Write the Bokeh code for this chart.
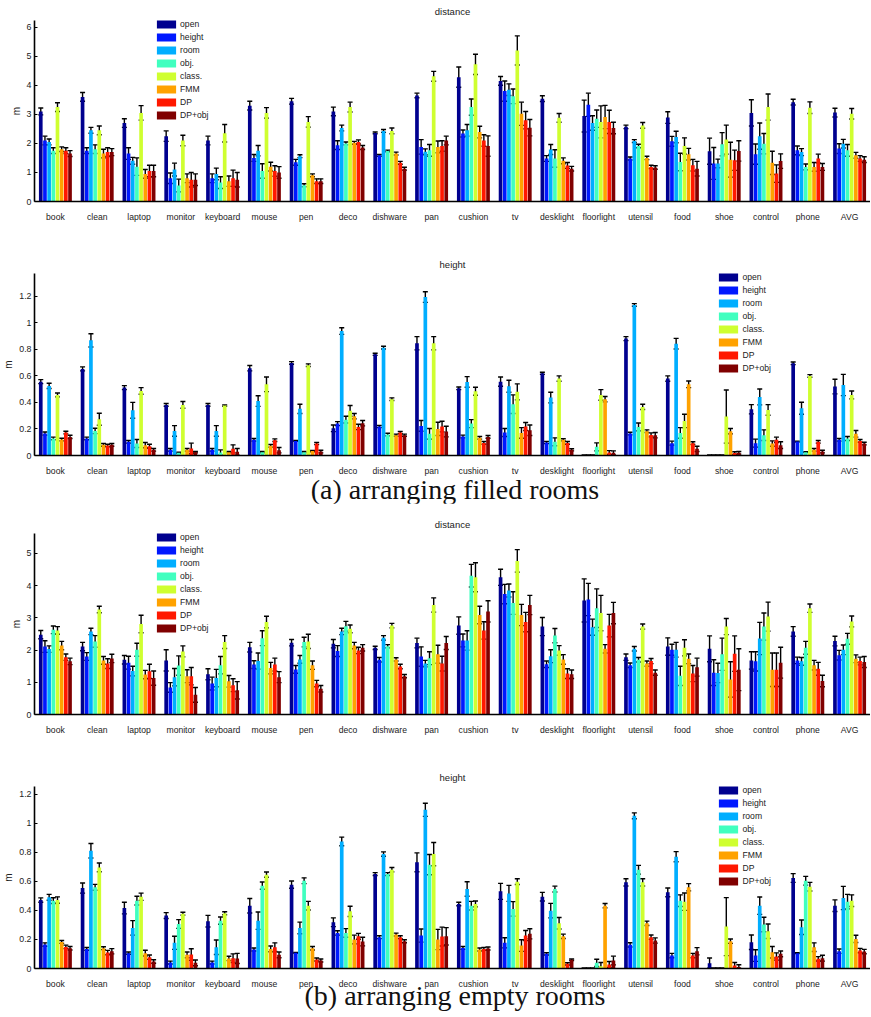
from bokeh.plotting import figure
from bokeh.models import (Range1d, FixedTicker, ColumnDataSource, Whisker, TeeHead,
                          Legend, LegendItem, NumeralTickFormatter, Div)
from bokeh.layouts import column
from bokeh.embed import file_html
from bokeh.resources import INLINE

categories = ["book", "clean", "laptop", "monitor", "keyboard", "mouse", "pen", "deco",
              "dishware", "pan", "cushion", "tv", "desklight", "floorlight", "utensil",
              "food", "shoe", "control", "phone", "AVG"]
series = ["open", "height", "room", "obj.", "class.", "FMM", "DP", "DP+obj"]
colors = ["#00008F", "#0018FF", "#00AEFF", "#40FFBF", "#CFFF30", "#FFA200", "#FF1800", "#800000"]

# (a) filled rooms - distance (rows: categories, columns: series)
filled_distance = [
    [3.10, 2.10, 2.05, 1.75, 3.25, 1.80, 1.75, 1.65],
    [3.60, 1.75, 2.45, 1.80, 2.45, 1.65, 1.70, 1.70],
    [2.70, 1.65, 1.40, 1.20, 3.05, 0.95, 1.05, 1.05],
    [2.25, 0.80, 1.10, 0.55, 2.10, 0.80, 0.75, 0.75],
    [2.10, 0.80, 0.95, 0.65, 2.35, 0.70, 0.80, 0.75],
    [3.30, 1.50, 1.75, 1.05, 3.05, 1.20, 1.05, 1.00],
    [3.45, 1.35, 1.56, 0.56, 2.74, 0.90, 0.70, 0.70],
    [3.10, 1.94, 2.53, 2.00, 3.25, 2.02, 2.05, 1.86],
    [2.36, 1.59, 2.43, 1.74, 2.43, 1.65, 1.33, 1.13],
    [3.65, 1.88, 1.71, 1.76, 4.31, 1.88, 1.91, 2.10],
    [4.28, 2.34, 2.45, 3.25, 4.72, 2.39, 2.10, 1.91],
    [4.15, 3.80, 3.85, 3.62, 5.20, 3.02, 2.80, 2.54],
    [3.54, 1.48, 1.79, 1.48, 2.88, 1.40, 1.24, 1.13],
    [2.94, 3.33, 2.70, 2.85, 2.74, 2.91, 2.74, 2.53],
    [2.57, 1.48, 2.08, 1.91, 2.62, 1.50, 1.19, 1.17],
    [2.89, 2.07, 2.22, 1.36, 1.91, 1.63, 1.25, 1.13],
    [1.73, 1.31, 1.31, 1.97, 2.13, 1.44, 1.42, 1.74],
    [3.05, 1.63, 2.25, 1.99, 3.25, 1.33, 0.96, 1.39],
    [3.42, 1.76, 1.70, 1.19, 3.23, 1.19, 1.48, 1.19],
    [3.06, 1.82, 1.99, 1.76, 3.02, 1.59, 1.48, 1.44],
]
filled_distance_err = [
    [0.12, 0.15, 0.10, 0.10, 0.15, 0.08, 0.10, 0.10],
    [0.15, 0.10, 0.10, 0.15, 0.15, 0.15, 0.15, 0.12],
    [0.15, 0.20, 0.12, 0.30, 0.25, 0.15, 0.20, 0.20],
    [0.18, 0.18, 0.22, 0.22, 0.18, 0.15, 0.25, 0.20],
    [0.15, 0.15, 0.20, 0.20, 0.30, 0.18, 0.28, 0.25],
    [0.15, 0.12, 0.18, 0.25, 0.18, 0.15, 0.18, 0.20],
    [0.10, 0.10, 0.05, 0.05, 0.18, 0.05, 0.08, 0.08],
    [0.15, 0.15, 0.10, 0.05, 0.17, 0.05, 0.07, 0.07],
    [0.03, 0.03, 0.05, 0.03, 0.10, 0.05, 0.05, 0.05],
    [0.08, 0.25, 0.10, 0.20, 0.17, 0.20, 0.18, 0.15],
    [0.35, 0.12, 0.20, 0.28, 0.35, 0.20, 0.20, 0.35],
    [0.15, 0.35, 0.20, 0.25, 0.50, 0.40, 0.30, 0.28],
    [0.10, 0.10, 0.17, 0.30, 0.15, 0.10, 0.10, 0.08],
    [0.55, 0.40, 0.25, 0.30, 0.55, 0.40, 0.40, 0.20],
    [0.06, 0.05, 0.05, 0.06, 0.10, 0.06, 0.06, 0.06],
    [0.20, 0.17, 0.20, 0.30, 0.28, 0.20, 0.20, 0.25],
    [0.45, 0.55, 0.15, 0.40, 0.50, 0.60, 0.35, 0.35],
    [0.45, 0.35, 0.45, 0.35, 0.45, 0.40, 0.30, 0.25],
    [0.10, 0.15, 0.12, 0.10, 0.20, 0.15, 0.15, 0.12],
    [0.15, 0.17, 0.15, 0.20, 0.18, 0.10, 0.10, 0.10],
]

# (a) filled rooms - height
filled_height = [
    [0.556, 0.165, 0.524, 0.128, 0.456, 0.120, 0.173, 0.140],
    [0.652, 0.128, 0.867, 0.185, 0.273, 0.080, 0.075, 0.080],
    [0.511, 0.103, 0.340, 0.090, 0.486, 0.078, 0.070, 0.043],
    [0.381, 0.043, 0.185, 0.020, 0.381, 0.043, 0.053, 0.025],
    [0.381, 0.043, 0.185, 0.022, 0.376, 0.025, 0.050, 0.028],
    [0.657, 0.118, 0.410, 0.025, 0.536, 0.073, 0.115, 0.040],
    [0.697, 0.110, 0.351, 0.025, 0.680, 0.033, 0.090, 0.030],
    [0.205, 0.240, 0.937, 0.270, 0.336, 0.296, 0.215, 0.243],
    [0.762, 0.218, 0.812, 0.158, 0.424, 0.153, 0.173, 0.153],
    [0.845, 0.223, 1.193, 0.163, 0.845, 0.200, 0.218, 0.180],
    [0.506, 0.143, 0.554, 0.240, 0.484, 0.133, 0.095, 0.140],
    [0.556, 0.173, 0.521, 0.386, 0.479, 0.170, 0.218, 0.190],
    [0.619, 0.098, 0.436, 0.103, 0.579, 0.118, 0.095, 0.043],
    [0.003, 0.003, 0.003, 0.065, 0.456, 0.424, 0.022, 0.020],
    [0.880, 0.165, 1.133, 0.215, 0.366, 0.183, 0.155, 0.153],
    [0.579, 0.093, 0.842, 0.170, 0.260, 0.536, 0.093, 0.050],
    [0.003, 0.003, 0.003, 0.003, 0.293, 0.183, 0.018, 0.020],
    [0.348, 0.093, 0.441, 0.153, 0.343, 0.090, 0.118, 0.078],
    [0.694, 0.105, 0.356, 0.025, 0.599, 0.043, 0.103, 0.030],
    [0.519, 0.118, 0.531, 0.128, 0.456, 0.163, 0.110, 0.090],
]
filled_height_err = [
    [0.015, 0.012, 0.020, 0.010, 0.015, 0.010, 0.010, 0.012],
    [0.015, 0.010, 0.050, 0.020, 0.045, 0.010, 0.010, 0.010],
    [0.015, 0.010, 0.060, 0.030, 0.025, 0.020, 0.015, 0.010],
    [0.010, 0.010, 0.040, 0.005, 0.025, 0.010, 0.040, 0.005],
    [0.010, 0.010, 0.040, 0.020, 0.005, 0.005, 0.030, 0.025],
    [0.020, 0.010, 0.040, 0.005, 0.055, 0.010, 0.010, 0.020],
    [0.010, 0.003, 0.035, 0.005, 0.010, 0.005, 0.008, 0.010],
    [0.025, 0.015, 0.025, 0.025, 0.040, 0.020, 0.020, 0.020],
    [0.008, 0.008, 0.010, 0.010, 0.010, 0.008, 0.008, 0.008],
    [0.050, 0.040, 0.040, 0.040, 0.050, 0.050, 0.040, 0.040],
    [0.010, 0.010, 0.040, 0.030, 0.030, 0.010, 0.010, 0.010],
    [0.035, 0.030, 0.045, 0.070, 0.060, 0.040, 0.030, 0.040],
    [0.008, 0.008, 0.040, 0.030, 0.020, 0.008, 0.010, 0.008],
    [0.000, 0.000, 0.000, 0.030, 0.040, 0.020, 0.015, 0.015],
    [0.015, 0.010, 0.010, 0.030, 0.020, 0.010, 0.015, 0.020],
    [0.020, 0.015, 0.040, 0.040, 0.050, 0.025, 0.010, 0.020],
    [0.000, 0.000, 0.000, 0.000, 0.200, 0.020, 0.010, 0.010],
    [0.035, 0.030, 0.060, 0.040, 0.040, 0.020, 0.020, 0.025],
    [0.010, 0.003, 0.045, 0.003, 0.010, 0.010, 0.010, 0.010],
    [0.055, 0.010, 0.080, 0.015, 0.030, 0.025, 0.010, 0.010],
]

# (b) empty rooms - distance
empty_distance = [
    [2.48, 2.11, 2.03, 2.63, 2.61, 2.14, 1.78, 1.65],
    [2.11, 1.80, 2.58, 2.27, 3.26, 1.68, 1.58, 1.74],
    [1.70, 1.61, 1.35, 2.01, 2.81, 1.24, 1.34, 1.13],
    [1.68, 0.84, 1.16, 1.52, 1.96, 1.19, 1.19, 0.61],
    [1.25, 0.96, 1.13, 1.53, 2.25, 1.03, 0.91, 0.75],
    [2.09, 1.55, 1.66, 2.37, 2.87, 1.44, 1.55, 1.16],
    [2.23, 1.40, 1.71, 2.25, 2.27, 1.53, 0.96, 0.80],
    [2.20, 1.97, 2.58, 2.74, 2.66, 2.14, 1.99, 2.07],
    [2.07, 1.70, 2.38, 2.12, 2.76, 1.71, 1.49, 1.19],
    [2.22, 1.80, 1.58, 1.75, 3.40, 1.87, 1.58, 2.22],
    [2.76, 2.30, 2.30, 4.31, 4.26, 3.09, 2.61, 3.20],
    [4.26, 3.74, 3.85, 3.46, 4.77, 3.09, 2.87, 3.40],
    [2.73, 1.56, 1.81, 2.45, 1.99, 1.71, 1.27, 1.25],
    [3.54, 3.57, 2.71, 3.30, 3.15, 2.04, 2.76, 3.15],
    [1.78, 1.53, 2.04, 1.70, 2.73, 1.58, 1.66, 1.30],
    [2.11, 2.01, 2.01, 1.20, 2.07, 1.73, 1.27, 1.47],
    [2.04, 1.30, 1.29, 1.87, 2.73, 1.09, 1.89, 1.39],
    [1.68, 1.65, 2.36, 2.73, 3.04, 1.39, 1.39, 1.61],
    [2.58, 1.68, 1.65, 2.07, 3.30, 1.53, 1.42, 1.04],
    [2.28, 1.84, 2.01, 2.35, 2.89, 1.73, 1.66, 1.63],
]
empty_distance_err = [
    [0.13, 0.18, 0.10, 0.12, 0.12, 0.13, 0.10, 0.10],
    [0.13, 0.12, 0.10, 0.18, 0.10, 0.12, 0.15, 0.13],
    [0.13, 0.20, 0.15, 0.20, 0.27, 0.13, 0.22, 0.22],
    [0.33, 0.15, 0.27, 0.30, 0.17, 0.20, 0.27, 0.23],
    [0.17, 0.20, 0.27, 0.27, 0.20, 0.18, 0.20, 0.27],
    [0.15, 0.12, 0.25, 0.23, 0.18, 0.18, 0.20, 0.17],
    [0.10, 0.12, 0.12, 0.15, 0.22, 0.13, 0.10, 0.10],
    [0.13, 0.17, 0.10, 0.15, 0.12, 0.10, 0.10, 0.10],
    [0.05, 0.07, 0.07, 0.05, 0.07, 0.05, 0.07, 0.05],
    [0.15, 0.30, 0.10, 0.20, 0.22, 0.28, 0.23, 0.20],
    [0.27, 0.20, 0.30, 0.35, 0.45, 0.27, 0.27, 0.33],
    [0.25, 0.30, 0.20, 0.35, 0.35, 0.33, 0.30, 0.30],
    [0.28, 0.10, 0.20, 0.22, 0.15, 0.15, 0.15, 0.13],
    [0.67, 0.50, 0.25, 0.60, 0.55, 0.13, 0.35, 0.33],
    [0.10, 0.07, 0.07, 0.07, 0.08, 0.08, 0.08, 0.08],
    [0.27, 0.17, 0.23, 0.30, 0.25, 0.15, 0.25, 0.28],
    [0.40, 0.40, 0.30, 0.50, 0.25, 0.55, 0.55, 0.65],
    [0.27, 0.30, 0.50, 0.42, 0.45, 0.52, 0.52, 0.48],
    [0.15, 0.10, 0.12, 0.20, 0.13, 0.15, 0.20, 0.18],
    [0.15, 0.15, 0.15, 0.17, 0.17, 0.12, 0.12, 0.17],
]

# (b) empty rooms - height
empty_height = [
    [0.472, 0.165, 0.491, 0.468, 0.472, 0.183, 0.149, 0.140],
    [0.555, 0.135, 0.812, 0.560, 0.697, 0.140, 0.110, 0.119],
    [0.417, 0.106, 0.280, 0.468, 0.495, 0.106, 0.078, 0.048],
    [0.365, 0.041, 0.177, 0.307, 0.378, 0.094, 0.096, 0.039],
    [0.326, 0.041, 0.147, 0.330, 0.381, 0.069, 0.071, 0.069],
    [0.433, 0.131, 0.330, 0.571, 0.647, 0.135, 0.147, 0.094],
    [0.578, 0.108, 0.280, 0.605, 0.433, 0.140, 0.062, 0.055],
    [0.319, 0.245, 0.876, 0.245, 0.394, 0.200, 0.222, 0.186],
    [0.651, 0.216, 0.789, 0.651, 0.681, 0.234, 0.216, 0.188],
    [0.732, 0.227, 1.094, 0.716, 0.789, 0.200, 0.220, 0.222],
    [0.445, 0.142, 0.548, 0.433, 0.445, 0.131, 0.135, 0.138],
    [0.532, 0.177, 0.518, 0.411, 0.599, 0.158, 0.227, 0.239],
    [0.495, 0.101, 0.399, 0.548, 0.312, 0.222, 0.032, 0.060],
    [0.002, 0.002, 0.002, 0.039, 0.016, 0.433, 0.028, 0.055],
    [0.594, 0.163, 1.053, 0.681, 0.594, 0.312, 0.216, 0.193],
    [0.525, 0.089, 0.771, 0.468, 0.461, 0.560, 0.089, 0.119],
    [0.037, 0.002, 0.002, 0.002, 0.289, 0.188, 0.021, 0.011],
    [0.181, 0.089, 0.433, 0.303, 0.257, 0.112, 0.083, 0.101],
    [0.624, 0.106, 0.284, 0.605, 0.564, 0.147, 0.067, 0.071],
    [0.433, 0.119, 0.486, 0.461, 0.468, 0.204, 0.124, 0.117],
]
empty_height_err = [
    [0.015, 0.012, 0.020, 0.020, 0.022, 0.010, 0.012, 0.012],
    [0.035, 0.010, 0.050, 0.020, 0.030, 0.010, 0.015, 0.018],
    [0.040, 0.008, 0.050, 0.030, 0.025, 0.020, 0.015, 0.012],
    [0.020, 0.010, 0.045, 0.030, 0.010, 0.020, 0.040, 0.020],
    [0.040, 0.010, 0.050, 0.025, 0.010, 0.015, 0.030, 0.035],
    [0.050, 0.010, 0.060, 0.025, 0.018, 0.020, 0.030, 0.020],
    [0.025, 0.003, 0.040, 0.020, 0.030, 0.012, 0.010, 0.010],
    [0.030, 0.015, 0.030, 0.030, 0.035, 0.030, 0.020, 0.030],
    [0.010, 0.010, 0.015, 0.010, 0.015, 0.010, 0.010, 0.010],
    [0.065, 0.045, 0.045, 0.070, 0.080, 0.070, 0.065, 0.060],
    [0.012, 0.010, 0.050, 0.030, 0.020, 0.010, 0.010, 0.010],
    [0.055, 0.035, 0.055, 0.050, 0.020, 0.040, 0.035, 0.035],
    [0.030, 0.008, 0.050, 0.020, 0.040, 0.015, 0.008, 0.005],
    [0.000, 0.000, 0.000, 0.025, 0.025, 0.015, 0.020, 0.030],
    [0.025, 0.015, 0.020, 0.030, 0.025, 0.015, 0.015, 0.018],
    [0.030, 0.015, 0.035, 0.040, 0.060, 0.025, 0.015, 0.025],
    [0.035, 0.000, 0.000, 0.000, 0.200, 0.015, 0.020, 0.015],
    [0.050, 0.040, 0.060, 0.050, 0.050, 0.040, 0.025, 0.020],
    [0.030, 0.003, 0.050, 0.030, 0.030, 0.030, 0.015, 0.020],
    [0.040, 0.015, 0.080, 0.050, 0.040, 0.025, 0.015, 0.015],
]

FONT = "Liberation Sans"
TXT = "#222222"
FIG_W = 870
B_LEFT = 30
FRAME_W = FIG_W - B_LEFT
BAR_STEP = 0.1
BAR_W = 0.088


def make_panel(title, vals, errs, ymax, yticks, legend_data_x, b_top, frame_h, b_bottom):
    p = figure(width=FIG_W, height=b_top + frame_h + b_bottom,
               x_range=Range1d(0.5, 20.5), y_range=Range1d(0, ymax),
               output_backend="svg", toolbar_location=None,
               min_border_left=B_LEFT, min_border_right=0,
               min_border_top=b_top, min_border_bottom=b_bottom,
               title=title)
    p.title.align = "center"
    p.title.text_font = FONT
    p.title.text_font_style = "normal"
    p.title.text_font_size = "9.5px"
    p.title.text_color = TXT
    p.title.standoff = 7
    p.outline_line_color = None
    p.xgrid.visible = False
    p.ygrid.visible = False
    p.background_fill_color = "white"

    items = []
    n = len(categories)
    for j, name in enumerate(series):
        xs = [i + 1 + (j - 3.5) * BAR_STEP for i in range(n)]
        ys = [row[j] for row in vals]
        es = [row[j] for row in errs]
        src = ColumnDataSource(dict(x=xs, top=ys,
                                    upper=[y + e for y, e in zip(ys, es)],
                                    lower=[max(y - e, 0) for y, e in zip(ys, es)]))
        r = p.vbar(x="x", top="top", width=BAR_W, bottom=0, source=src,
                   fill_color=colors[j], line_color=None)
        items.append(LegendItem(label=name, renderers=[r]))
        w = Whisker(source=src, base="x", upper="upper", lower="lower",
                    line_color="black", line_width=1.4,
                    upper_head=TeeHead(size=5, line_color="black", line_width=1.4),
                    lower_head=TeeHead(size=5, line_color="black", line_width=1.4))
        p.add_layout(w)

    legend_h = 8 * 10 + 7 * 3
    lx = (legend_data_x - 0.5) * FRAME_W / 20.0 - 8
    legend = Legend(items=items, location=(lx, frame_h - legend_h + 1),
                    glyph_width=24, glyph_height=10, label_height=10,
                    label_standoff=2, spacing=3, padding=0, margin=0,
                    label_text_font=FONT, label_text_font_size="8.6px",
                    label_text_color=TXT, border_line_color=None,
                    background_fill_alpha=0.0)
    p.add_layout(legend)

    p.xaxis.ticker = FixedTicker(ticks=list(range(1, n + 1)))
    p.xaxis.major_label_overrides = {i + 1: c for i, c in enumerate(categories)}
    p.xaxis.major_tick_line_color = None
    p.xaxis.minor_tick_line_color = None
    p.xaxis.axis_line_width = 1.6
    p.xaxis.axis_line_color = "black"
    p.xaxis.major_label_text_font = FONT
    p.xaxis.major_label_text_font_size = "8.6px"
    p.xaxis.major_label_text_color = TXT
    p.xaxis.major_label_standoff = 4

    p.yaxis.ticker = FixedTicker(ticks=yticks)
    p.yaxis.formatter = NumeralTickFormatter(format="0.[0]")
    p.yaxis.axis_label = "m"
    p.yaxis.axis_label_text_font = FONT
    p.yaxis.axis_label_text_font_style = "normal"
    p.yaxis.axis_label_text_font_size = "10px"
    p.yaxis.axis_label_text_color = TXT
    p.yaxis.axis_label_standoff = 2
    p.yaxis.major_label_text_font = FONT
    p.yaxis.major_label_text_font_size = "8.8px"
    p.yaxis.major_label_text_color = TXT
    p.yaxis.major_label_standoff = 3
    p.yaxis.major_tick_in = 3
    p.yaxis.major_tick_out = 0
    p.yaxis.minor_tick_line_color = None
    p.yaxis.axis_line_width = 1.6
    p.yaxis.axis_line_color = "black"
    return p


def caption(text, h, lh):
    html = ('<div style="width:%dpx;height:%dpx;line-height:%dpx;text-align:center;'
            'padding-left:40px;box-sizing:border-box;font-family:\'Liberation Serif\',serif;'
            'font-size:28px;color:#111;white-space:nowrap;overflow:visible;">%s</div>'
            % (FIG_W, h, lh, text))
    return Div(text=html, width=FIG_W, height=h, margin=(0, 0, 0, 0))


f1 = make_panel("distance", filled_distance, filled_distance_err, 6.23,
                [0, 1, 2, 3, 4, 5, 6], 3.55, 20, 181, 49)
f2 = make_panel("height", filled_height, filled_height_err, 1.37,
                [0, 0.2, 0.4, 0.6, 0.8, 1.0, 1.2], 16.94, 23, 182, 24)
cap_a = caption("(a) arranging filled rooms", 24, 22)
f3 = make_panel("distance", empty_distance, empty_distance_err, 5.62,
                [0, 1, 2, 3, 4, 5], 3.55, 30, 181, 39)
f4 = make_panel("height", empty_height, empty_height_err, 1.255,
                [0, 0.2, 0.4, 0.6, 0.8, 1.0, 1.2], 16.94, 33, 182, 24)
cap_b = caption("(b) arranging empty rooms", 22, 8)

layout = column(f1, f2, cap_a, f3, f4, cap_b, spacing=0)

open("out.html", "w").write(file_html(layout, INLINE))
